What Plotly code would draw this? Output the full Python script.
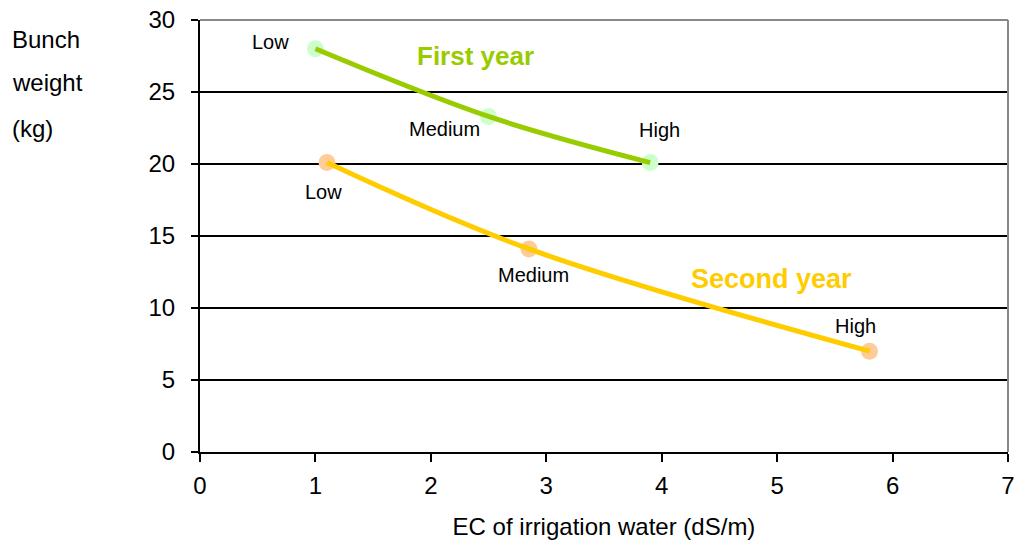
import plotly.graph_objects as go

# Bunch weight vs. irrigation water salinity (EC), two seasons
ec_first = [1.0, 2.5, 3.9]
weight_first = [28.0, 23.3, 20.1]
ec_second = [1.1, 2.85, 5.8]
weight_second = [20.1, 14.1, 7.0]
level_labels = ["Low", "Medium", "High"]

x_ticks = [0, 1, 2, 3, 4, 5, 6, 7]
y_ticks = [0, 5, 10, 15, 20, 25, 30]

FONT = "Liberation Sans, Arial, sans-serif"
GREEN_LINE = "#99cc00"
GREEN_MARK = "#ccffcc"
YELLOW_LINE = "#ffcc00"
ORANGE_MARK = "#ffcc99"

fig = go.Figure()

# markers underneath, smoothed lines on top
fig.add_trace(go.Scatter(x=ec_first, y=weight_first, mode="markers",
                         marker=dict(size=17, color=GREEN_MARK), hoverinfo="skip"))
fig.add_trace(go.Scatter(x=ec_second, y=weight_second, mode="markers",
                         marker=dict(size=17, color=ORANGE_MARK), hoverinfo="skip"))
fig.add_trace(go.Scatter(x=ec_first, y=weight_first, mode="lines",
                         line=dict(color=GREEN_LINE, width=5, shape="spline", smoothing=1.0)))
fig.add_trace(go.Scatter(x=ec_second, y=weight_second, mode="lines",
                         line=dict(color=YELLOW_LINE, width=5, shape="spline", smoothing=1.0)))

annotations = []
# point labels, offset from each point in pixels
first_shifts = [(-45, 7), (-44, -13), (9, 33)]
second_shifts = [(-3, -29), (5, -26), (-14, 25)]
for xs, ys, shifts in ((ec_first, weight_first, first_shifts),
                       (ec_second, weight_second, second_shifts)):
    for xv, yv, lab, (dx, dy) in zip(xs, ys, level_labels, shifts):
        annotations.append(dict(x=xv, y=yv, xref="x", yref="y", text=lab,
                                showarrow=False, xshift=dx, yshift=dy,
                                font=dict(family=FONT, size=20, color="#000")))

# series names
annotations.append(dict(x=2.385, y=27.5, xref="x", yref="y", text="<b>First year</b>",
                        showarrow=False, font=dict(family=FONT, size=26, color=GREEN_LINE)))
annotations.append(dict(x=4.95, y=12.0, xref="x", yref="y", text="<b>Second year</b>",
                        showarrow=False, font=dict(family=FONT, size=27, color=YELLOW_LINE)))

# y-axis title, stacked in three lines at the top left
for txt, py in (("Bunch", 0.954), ("weight", 0.856), ("(kg)", 0.75)):
    annotations.append(dict(x=-0.2346, y=py, xref="paper", yref="paper", text=txt,
                            xanchor="left", yanchor="middle", showarrow=False,
                            font=dict(family=FONT, size=24, color="#000")))

fig.update_layout(
    width=1019, height=546,
    margin=dict(l=200, r=11, t=20, b=94, autoexpand=False),
    paper_bgcolor="white", plot_bgcolor="white",
    showlegend=False,
    font=dict(family=FONT, size=24, color="#000"),
    annotations=annotations,
    shapes=[
        dict(type="line", xref="paper", yref="paper", x0=0, x1=1, y0=1, y1=1,
             line=dict(color="#888888", width=2)),
        dict(type="line", xref="paper", yref="paper", x0=1, x1=1, y0=0, y1=1,
             line=dict(color="#888888", width=2)),
    ],
)

fig.update_xaxes(
    range=[0, 7], tickvals=x_ticks, ticktext=[str(v) for v in x_ticks],
    showline=True, linecolor="#000", linewidth=2,
    ticks="outside", ticklen=8, tickwidth=1.5, tickcolor="#000",
    showgrid=False, zeroline=False, automargin=False,
    tickfont=dict(family=FONT, size=24, color="#000"),
    ticklabelstandoff=3,
    title=dict(text="EC of irrigation water (dS/m)", standoff=20,
               font=dict(family=FONT, size=24, color="#000")),
)
fig.update_yaxes(
    range=[0, 30], tickvals=y_ticks, ticktext=[str(v) for v in y_ticks],
    showline=True, linecolor="#000", linewidth=2,
    ticks="outside", ticklen=7, tickwidth=1.5, tickcolor="#000",
    showgrid=True, gridcolor="#000", gridwidth=1.5, zeroline=False, automargin=False,
    tickfont=dict(family=FONT, size=24, color="#000"),
    ticklabelstandoff=11,
)

fig.write_html("out.html")
